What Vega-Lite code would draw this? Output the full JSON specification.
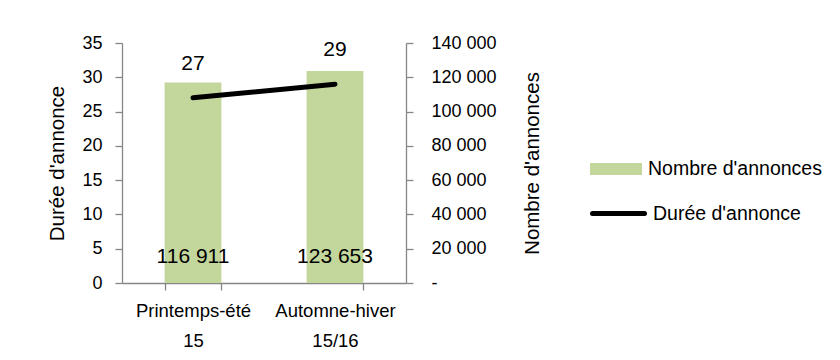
{
  "$schema": "https://vega.github.io/schema/vega-lite/v6.json",
  "width": 284,
  "height": 240,
  "autosize": "none",
  "padding": {"left": 122, "top": 43, "right": 434, "bottom": 77},
  "config": {
    "font": "Liberation Sans",
    "view": {"stroke": null},
    "locale": {"number": {"decimal": ",", "thousands": " ", "grouping": [3], "currency": ["", " €"]}},
    "axis": {"domainColor": "#868686", "tickColor": "#868686", "tickSize": 7, "labelColor": "#000000", "titleColor": "#000000", "labelFontSize": 18, "titleFontSize": 20.5, "titleFontWeight": "normal", "grid": false, "domainWidth": 1.3, "tickWidth": 1.3},
    "axisLeft": {"labelPadding": 13, "titlePadding": 14},
    "axisRight": {"labelPadding": 18, "titlePadding": 26, "titleAngle": 270, "titleBaseline": "top"}
  },
  "data": {"values": [
    {"periode": "Printemps-été 15", "nombre": 116911, "duree": 27},
    {"periode": "Automne-hiver 15/16", "nombre": 123653, "duree": 29}
  ]},
  "encoding": {
    "x": {"field": "periode", "type": "nominal", "sort": null,
      "scale": {"paddingInner": 0.6, "paddingOuter": 0.3},
      "axis": {"title": null, "labelAngle": 0, "labelExpr": "split(datum.label, ' ')", "tickBand": "extent", "labelFontSize": 18.5, "labelLineHeight": 30, "labelPadding": 11}}
  },
  "layer": [
    {"layer": [
      {"mark": {"type": "bar", "color": "#c3d69b"},
       "encoding": {
         "y": {"field": "nombre", "type": "quantitative", "scale": {"domain": [0, 140000]},
           "axis": {"orient": "right", "title": "Nombre d'annonces", "values": [0, 20000, 40000, 60000, 80000, 100000, 120000, 140000], "format": ",.0f", "labelExpr": "datum.value == 0 ? '-' : datum.label"}},
         "fill": {"datum": "Nombre d'annonces", "type": "nominal", "scale": {"range": ["#c3d69b"]},
           "legend": {"orient": "none", "legendX": 468, "legendY": 100, "title": null, "symbolType": "M-1,-0.23H1V0.23H-1Z", "symbolSize": 2704, "symbolStrokeWidth": 0, "labelFontSize": 19.5, "labelOffset": 6, "labelLimit": 400, "labelColor": "#000000"}}
       }},
      {"mark": {"type": "text", "fontSize": 21, "baseline": "middle", "dy": -26, "color": "#000000"},
       "encoding": {
         "y": {"datum": 0, "type": "quantitative", "scale": {"domain": [0, 140000]},
           "axis": {"orient": "right", "title": "Nombre d'annonces", "values": [0, 20000, 40000, 60000, 80000, 100000, 120000, 140000], "format": ",.0f", "labelExpr": "datum.value == 0 ? '-' : datum.label"}},
         "text": {"field": "nombre", "type": "quantitative", "format": ",.0f"}
       }}
    ]},
    {"layer": [
      {"mark": {"type": "line", "strokeWidth": 5, "strokeCap": "round"},
       "encoding": {
         "y": {"field": "duree", "type": "quantitative", "scale": {"domain": [0, 35]},
           "axis": {"orient": "left", "title": "Durée d'annonce", "values": [0, 5, 10, 15, 20, 25, 30, 35]}},
         "stroke": {"datum": "Durée d'annonce", "type": "nominal", "scale": {"range": ["#000000"]},
           "legend": {"orient": "none", "legendX": 468, "legendY": 142, "title": null, "symbolType": "stroke", "symbolSize": 2704, "symbolStrokeWidth": 5, "labelFontSize": 19.5, "labelOffset": 6, "labelLimit": 400, "labelColor": "#000000",
             "encode": {"symbols": {"update": {"strokeCap": {"value": "round"}}}}}}
       }},
      {"mark": {"type": "text", "fontSize": 21, "baseline": "middle", "dy": -34, "color": "#000000"},
       "encoding": {
         "y": {"field": "duree", "type": "quantitative", "scale": {"domain": [0, 35]},
           "axis": {"orient": "left", "title": "Durée d'annonce", "values": [0, 5, 10, 15, 20, 25, 30, 35]}},
         "text": {"field": "duree", "type": "quantitative"}
       }}
    ]}
  ],
  "resolve": {"scale": {"y": "independent"}}
}
